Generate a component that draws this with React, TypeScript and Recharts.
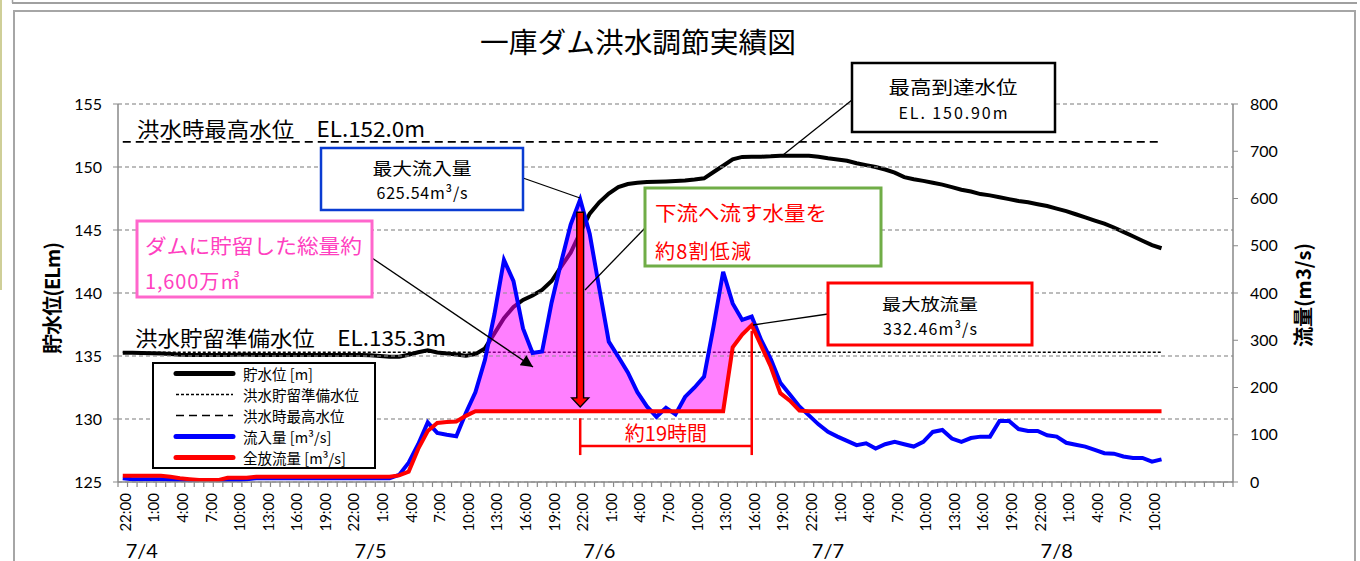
import { ComposedChart, Area, Line, XAxis, YAxis, CartesianGrid, ReferenceLine } from 'recharts'

// hourly records, index 0 = 7/3 22:00
const waterLevel = [
  135.25, 135.25, 135.24, 135.22, 135.2, 135.15, 135.1, 135.08, 135.08, 135.08,
  135.08, 135.08, 135.09, 135.09, 135.08, 135.08, 135.08, 135.08, 135.08, 135.08,
  135.08, 135.08, 135.08, 135.08, 135.08, 135.07, 135.05, 135.0, 134.95, 134.95,
  135.1, 135.3, 135.45, 135.28, 135.2, 135.12, 135.03, 135.15, 135.6, 136.8,
  138.0, 138.9, 139.45, 139.8, 140.25, 140.95, 142.1, 143.2, 144.8, 146.3,
  147.2, 147.9, 148.4, 148.65, 148.75, 148.8, 148.83, 148.85, 148.88, 148.92,
  149.0, 149.1, 149.6, 150.1, 150.6, 150.8, 150.82, 150.82, 150.85, 150.9,
  150.9, 150.9, 150.9, 150.82, 150.7, 150.6, 150.5, 150.3, 150.15, 150.0,
  149.8, 149.55, 149.2, 149.03, 148.9, 148.75, 148.6, 148.4, 148.2, 148.05,
  147.85, 147.75, 147.6, 147.45, 147.3, 147.2, 147.05, 146.9, 146.7, 146.5,
  146.25, 146.0, 145.75, 145.5, 145.2, 144.85, 144.5, 144.15, 143.8, 143.55,
]

const inflow = [
  8, 6, 6, 6, 6, 5, 4, 3, 3, 3,
  3, 3, 3, 6, 8, 8, 8, 8, 8, 8,
  8, 8, 8, 8, 8, 8, 8, 8, 8, 15,
  41, 80, 126, 104, 100, 97, 146, 190, 258, 355,
  470, 425, 325, 273, 276, 380, 465, 545, 598, 525,
  410, 297, 265, 232, 190, 160, 138, 157, 143, 180,
  200, 223, 330, 445, 378, 343, 350, 300, 260, 210,
  185, 160, 141, 122, 106, 96, 87, 78, 82, 71,
  80, 85, 80, 75, 85, 106, 110, 92, 85, 93,
  96, 96, 129, 129, 112, 108, 108, 99, 96, 83,
  79, 75, 68, 61, 60, 54, 51, 51, 43, 48,
]

const outflow = [
  13, 13, 13, 13, 13, 11, 8, 6, 4, 4,
  4, 9, 9, 9, 11, 11, 11, 11, 11, 11,
  11, 11, 11, 11, 11, 11, 11, 11, 11, 14,
  22, 70, 108, 125, 127, 128, 140, 150, 150, 150,
  150, 150, 150, 150, 150, 150, 150, 150, 150, 150,
  150, 150, 150, 150, 150, 150, 150, 150, 150, 150,
  150, 150, 150, 150, 285, 312, 332, 288, 244, 188,
  172, 151, 150, 150, 150, 150, 150, 150, 150, 150,
  150, 150, 150, 150, 150, 150, 150, 150, 150, 150,
  150, 150, 150, 150, 150, 150, 150, 150, 150, 150,
  150, 150, 150, 150, 150, 150, 150, 150, 150, 150,
]

const floodPrepLevel = 135.3
const floodHighLevel = 152.0
const floodControlStart = 35
const floodControlEnd = 66
const peakInflowHour = 48
const peakOutflowHour = 66

const hourLabels = [
  '22:00', '1:00', '4:00', '7:00', '10:00', '13:00', '16:00', '19:00',
  '22:00', '1:00', '4:00', '7:00', '10:00', '13:00', '16:00', '19:00',
  '22:00', '1:00', '4:00', '7:00', '10:00', '13:00', '16:00', '19:00',
  '22:00', '1:00', '4:00', '7:00', '10:00', '13:00', '16:00', '19:00',
  '22:00', '1:00', '4:00', '7:00', '10:00',
]
const dateLabels = ['7/4', '7/5', '7/6', '7/7', '7/8']
const dateTickHours = [2, 26, 50, 74, 98]
const levelTicks = [125, 130, 135, 140, 145, 150, 155]
const flowTicks = [0, 100, 200, 300, 400, 500, 600, 700, 800]

const legendItems = [
  { label: '貯水位 [m]', color: '#000000', width: 5, dash: undefined },
  { label: '洪水貯留準備水位', color: '#000000', width: 1.5, dash: '3 2' },
  { label: '洪水時最高水位', color: '#000000', width: 1.5, dash: '8 5' },
  { label: '流入量 [m³/s]', color: '#0000FF', width: 5, dash: undefined },
  { label: '全放流量 [m³/s]', color: '#FF0000', width: 5, dash: undefined },
]

const FONT_JP = "'Noto Sans CJK JP', 'Noto Sans', sans-serif"
const FONT_NUM = "Lato, 'Noto Sans', sans-serif"
const AXIS = '#898989'
const GRID = '#A6A6A6'

const data = waterLevel.map((level, h) => ({
  h,
  level,
  inflow: inflow[h],
  outflow: outflow[h],
  prep: floodPrepLevel,
  high: floodHighLevel,
  // storage = inflow above outflow during flood control
  stored:
    h >= floodControlStart && h <= floodControlEnd
      ? [outflow[h], Math.max(inflow[h], outflow[h])]
      : [outflow[h], outflow[h]],
}))

const X_DOMAIN = [-0.5, 116.5]
const hourBoundaries = Array.from({ length: 118 }, (_, i) => i - 0.5)
const timeTicks = [...hourBoundaries, ...hourLabels.map((_, i) => i * 3)]

const TimeTick = (props: any) => {
  const { x, y, payload } = props
  const v = payload.value
  if (!Number.isInteger(v)) {
    return <line x1={x} y1={y} x2={x} y2={y + 5} stroke={AXIS} strokeWidth={1.2} />
  }
  const label = hourLabels[v / 3]
  if (label === undefined) return <g />
  const tx = x + 2
  const ty = y + 11
  return (
    <text
      x={tx}
      y={ty}
      transform={`rotate(-90 ${tx} ${ty})`}
      textAnchor="end"
      dominantBaseline="central"
      fontSize={15}
      fontFamily={FONT_NUM}
      fill="#000"
    >
      {label}
    </text>
  )
}

const DateTick = (props: any) => {
  const { x, y, payload } = props
  const label = dateLabels[dateTickHours.indexOf(payload.value)]
  return (
    <text x={x} y={y + 13} textAnchor="middle" dominantBaseline="central" fontSize={20} fontFamily={FONT_NUM} fill="#000">
      {label}
    </text>
  )
}

// red block arrow: peak inflow down to outflow
const DownArrow = (props: any) => {
  const { x1, y1, y2 } = props
  const top = Math.min(y1, y2)
  const tip = Math.max(y1, y2)
  const s = 3.4
  const hw = 8.5
  const hl = 9
  const pts = [
    [x1 - s, top], [x1 + s, top], [x1 + s, tip - hl], [x1 + hw, tip - hl],
    [x1, tip], [x1 - hw, tip - hl], [x1 - s, tip - hl],
  ].map((p) => p.join(',')).join(' ')
  return <polygon points={pts} fill="#FF0000" stroke="#000" strokeWidth={1.4} />
}

function Overlay() {
  const jp = { fontFamily: FONT_JP, dominantBaseline: 'central' as const }
  return (
    <svg width={1360} height={561} style={{ position: 'absolute', left: 0, top: 0, pointerEvents: 'none' }}>
      <defs>
        <marker id="ah" viewBox="0 0 10 10" refX={10} refY={5} markerWidth={16} markerHeight={12} markerUnits="userSpaceOnUse" orient="auto">
          <path d="M0,0 L10,5 L0,10 z" fill="#000" />
        </marker>
      </defs>

      {/* page frames */}
      <rect x={0} y={0} width={2} height={290} fill="#CFCF98" />
      <line x1={12} y1={3} x2={1357} y2={3} stroke="#A0A0A0" strokeWidth={2} />
      <line x1={12.5} y1={0} x2={12.5} y2={3} stroke="#A0A0A0" strokeWidth={1.5} />
      <rect x={14} y={11} width={1341} height={560} fill="none" stroke="#A6A6A6" strokeWidth={2} />

      <text x={638} y={41} textAnchor="middle" fontSize={28} textLength={316} lengthAdjust="spacingAndGlyphs" {...jp}>
        一庫ダム洪水調節実績図
      </text>

      <text x={51} y={298} transform="rotate(-90 51 298)" textAnchor="middle" fontSize={20} fontWeight="bold" textLength={112} {...jp}>
        貯水位(ELm)
      </text>
      <text x={1302} y={295} transform="rotate(-90 1302 295)" textAnchor="middle" fontSize={20} fontWeight="bold" textLength={104} {...jp}>
        流量(m3/s)
      </text>

      <text x={137} y={128} fontSize={21} textLength={288} lengthAdjust="spacingAndGlyphs" {...jp}>洪水時最高水位　EL.152.0m</text>
      <text x={135} y={337} fontSize={21} textLength={311} lengthAdjust="spacingAndGlyphs" {...jp}>洪水貯留準備水位　EL.135.3m</text>

      {/* leader lines */}
      <line x1={523} y1={178} x2={580} y2={198} stroke="#000" strokeWidth={1.3} />
      <line x1={645} y1={228} x2={585} y2={290} stroke="#000" strokeWidth={1.3} />
      <line x1={852} y1={100} x2={783} y2={155} stroke="#000" strokeWidth={1.3} />
      <line x1={828} y1={314} x2={753} y2={325} stroke="#000" strokeWidth={1.3} />
      <line x1={372} y1={258} x2={533} y2={367} stroke="#000" strokeWidth={1.5} markerEnd="url(#ah)" />

      {/* peak inflow */}
      <rect x={321} y={148} width={202} height={62} fill="#fff" stroke="#0A3CD2" strokeWidth={2.5} />
      <text x={422} y={167} textAnchor="middle" fontSize={17} textLength={99} lengthAdjust="spacingAndGlyphs" {...jp}>最大流入量</text>
      <text x={422} y={192} textAnchor="middle" fontSize={16} textLength={91} {...jp}>625.54m³/s</text>

      {/* stored volume */}
      <rect x={137} y={221} width={235} height={76} fill="#fff" stroke="#FF66CC" strokeWidth={3} />
      <text x={145} y={245} fontSize={20} fill="#FF40C0" textLength={217} lengthAdjust="spacingAndGlyphs" {...jp}>ダムに貯留した総量約</text>
      <text x={145} y={280} fontSize={20} fill="#FF40C0" textLength={95} {...jp}>1,600万㎥</text>

      {/* highest level */}
      <rect x={852} y={63} width={203} height={69} fill="#fff" stroke="#000" strokeWidth={2.5} />
      <text x={953} y={86} textAnchor="middle" fontSize={18} textLength={129} lengthAdjust="spacingAndGlyphs" {...jp}>最高到達水位</text>
      <text x={953} y={112} textAnchor="middle" fontSize={16} textLength={109} {...jp}>EL. 150.90m</text>

      {/* reduction */}
      <rect x={645} y={188} width={236} height={78} fill="#fff" stroke="#70AD47" strokeWidth={3} />
      <text x={655} y={212} fontSize={20} fill="#FF0000" textLength={172} lengthAdjust="spacingAndGlyphs" {...jp}>下流へ流す水量を</text>
      <text x={655} y={250} fontSize={20} fill="#FF0000" textLength={96} {...jp}>約8割低減</text>

      {/* peak outflow */}
      <rect x={828} y={283} width={204} height={62} fill="#fff" stroke="#FF0000" strokeWidth={3} />
      <text x={930} y={303} textAnchor="middle" fontSize={16} textLength={96} lengthAdjust="spacingAndGlyphs" {...jp}>最大放流量</text>
      <text x={930} y={328} textAnchor="middle" fontSize={16} textLength={94} {...jp}>332.46m³/s</text>

      {/* legend */}
      <rect x={153} y={363} width={222} height={105} fill="#fff" stroke="#000" strokeWidth={2} />
      {legendItems.map((item, i) => {
        const y = 373.5 + i * 21
        return (
          <g key={item.label}>
            <line x1={176} y1={y} x2={233} y2={y} stroke={item.color} strokeWidth={item.width} strokeDasharray={item.dash} strokeLinecap={item.dash ? 'butt' : 'round'} />
            <text x={243} y={y} fontSize={14.5} {...jp}>{item.label}</text>
          </g>
        )
      })}
    </svg>
  )
}

export default function App() {
  return (
    <div style={{ position: 'absolute', left: 0, top: 0, width: 1360, height: 561, background: '#fff', overflow: 'hidden' }}>
      <div style={{ position: 'absolute', left: 0, top: 0 }}>
        <ComposedChart width={1360} height={561} data={data} margin={{ top: 104, right: 67, bottom: 4, left: 58 }}>
          <CartesianGrid vertical={false} stroke={GRID} strokeDasharray="4 3" />
          <XAxis
            dataKey="h"
            type="number"
            domain={X_DOMAIN}
            allowDataOverflow
            ticks={timeTicks}
            interval={0}
            tickLine={false}
            tickSize={0}
            tickMargin={0}
            tick={<TimeTick />}
            height={55}
            axisLine={{ stroke: AXIS, strokeWidth: 1.5 }}
          />
          <XAxis
            xAxisId="date"
            dataKey="h"
            type="number"
            domain={X_DOMAIN}
            allowDataOverflow
            ticks={dateTickHours}
            interval={0}
            tickLine={false}
            tickSize={0}
            tickMargin={0}
            axisLine={false}
            tick={<DateTick />}
            height={20}
          />
          <YAxis
            domain={[125, 155]}
            ticks={levelTicks}
            allowDataOverflow
            width={60}
            tickSize={5}
            tickMargin={11}
            interval={0}
            axisLine={{ stroke: AXIS, strokeWidth: 1.5 }}
            tickLine={{ stroke: AXIS }}
            tick={{ fill: '#000', fontSize: 16, fontFamily: FONT_NUM }}
          />
          <YAxis
            yAxisId="right"
            orientation="right"
            domain={[0, 800]}
            ticks={flowTicks}
            allowDataOverflow
            width={60}
            tickSize={5}
            tickMargin={12}
            interval={0}
            axisLine={{ stroke: AXIS, strokeWidth: 1.5 }}
            tickLine={{ stroke: AXIS }}
            tick={{ fill: '#000', fontSize: 16, fontFamily: FONT_NUM }}
          />

          {/* horizontal grid on the level axis */}
          {levelTicks.slice(1).map((v) => (
            <ReferenceLine key={`g${v}`} y={v} stroke={GRID} strokeWidth={1.2} strokeDasharray="4 3" />
          ))}

          <Area type="linear" dataKey="prep" stroke="#000" strokeWidth={1.5} strokeDasharray="3 2" fill="none" dot={false} activeDot={false} isAnimationActive={false} />
          <Area type="linear" dataKey="high" stroke="#000" strokeWidth={1.8} strokeDasharray="8 5" fill="none" dot={false} activeDot={false} isAnimationActive={false} />
          <Area type="linear" dataKey="level" stroke="#000" strokeWidth={4} fill="none" dot={false} activeDot={false} isAnimationActive={false} />
          <Area yAxisId="right" type="linear" dataKey="stored" stroke="none" fill="#FF00FF" fillOpacity={0.5} dot={false} activeDot={false} isAnimationActive={false} />
          <Line yAxisId="right" type="linear" dataKey="inflow" stroke="#0000FF" strokeWidth={4} dot={false} activeDot={false} isAnimationActive={false} />
          <Line yAxisId="right" type="linear" dataKey="outflow" stroke="#FF0000" strokeWidth={4} dot={false} activeDot={false} isAnimationActive={false} />

          {/* 約19時間 bracket */}
          <ReferenceLine yAxisId="right" segment={[{ x: peakInflowHour, y: 135 }, { x: peakInflowHour, y: 57 }]} stroke="#FF0000" strokeWidth={2.5} />
          <ReferenceLine yAxisId="right" segment={[{ x: peakOutflowHour, y: 320 }, { x: peakOutflowHour, y: 57 }]} stroke="#FF0000" strokeWidth={2.5} />
          <ReferenceLine
            yAxisId="right"
            segment={[{ x: peakInflowHour, y: 76 }, { x: peakOutflowHour, y: 76 }]}
            stroke="#FF0000"
            strokeWidth={2.5}
            label={{ value: '約19時間', position: 'top', offset: 5, fill: '#FF0000', fontSize: 20, fontFamily: FONT_JP }}
          />
          <ReferenceLine yAxisId="right" segment={[{ x: peakInflowHour, y: 571 }, { x: peakInflowHour, y: 159 }]} shape={DownArrow} />
        </ComposedChart>
      </div>
      <Overlay />
    </div>
  )
}
